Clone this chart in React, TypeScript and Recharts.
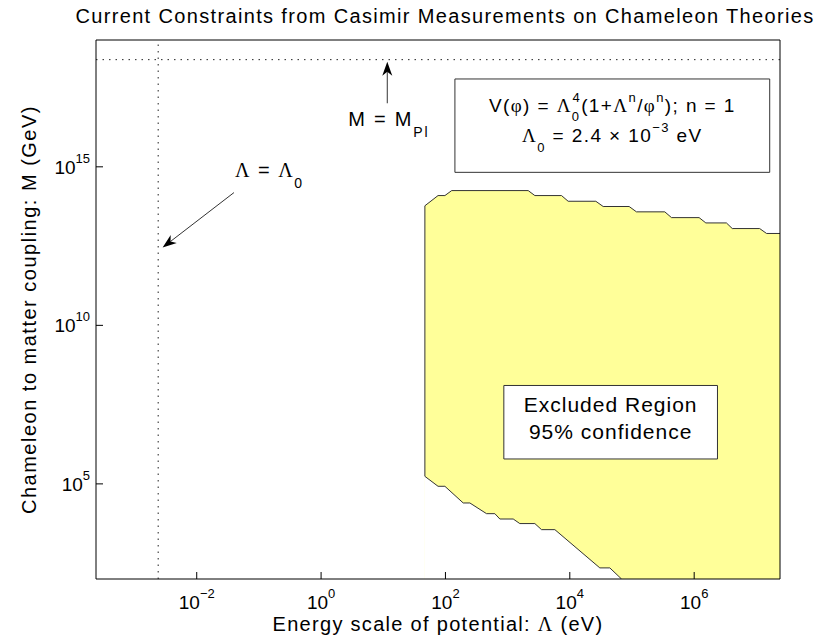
import { ComposedChart, Area, XAxis, YAxis, ReferenceLine, ReferenceArea, ReferenceDot, Label } from 'recharts';

// upper edge of the excluded region (Lambda in eV, M in GeV)
const upperEdge = [
    { lambda: 46.7, m: 1.73e5 },
    { lambda: 46.7, m: 5.9e13 },
    { lambda: 76, m: 1.24e14 },
    { lambda: 98, m: 1.24e14 },
    { lambda: 126, m: 1.78e14 },
    { lambda: 2140, m: 1.78e14 },
    { lambda: 2740, m: 1.24e14 },
    { lambda: 7360, m: 1.24e14 },
    { lambda: 9400, m: 8.2e13 },
    { lambda: 26200, m: 8.2e13 },
    { lambda: 34400, m: 5.6e13 },
    { lambda: 90000, m: 5.6e13 },
    { lambda: 118000, m: 3.8e13 },
    { lambda: 337000, m: 3.8e13 },
    { lambda: 432000, m: 2.5e13 },
    { lambda: 1.2e6, m: 2.5e13 },
    { lambda: 1.54e6, m: 1.7e13 },
    { lambda: 3.3e6, m: 1.7e13 },
    { lambda: 4.1e6, m: 1.13e13 },
    { lambda: 1.13e7, m: 1.13e13 },
    { lambda: 1.46e7, m: 7.9e12 },
    { lambda: 2.4e7, m: 7.9e12 },
];

// lower edge of the excluded region
const lowerEdge = [
    { lambda: 46.7, m: 1.73e5 },
    { lambda: 76, m: 8.4e4 },
    { lambda: 98, m: 8.4e4 },
    { lambda: 193, m: 2.5e4 },
    { lambda: 247, m: 2.5e4 },
    { lambda: 458, m: 1.15e4 },
    { lambda: 623, m: 1.15e4 },
    { lambda: 750, m: 7.8e3 },
    { lambda: 1230, m: 7.8e3 },
    { lambda: 1570, m: 5.6e3 },
    { lambda: 2740, m: 5.6e3 },
    { lambda: 3510, m: 3.6e3 },
    { lambda: 5750, m: 3.6e3 },
    { lambda: 30400, m: 224 },
    { lambda: 44000, m: 224 },
    { lambda: 67900, m: 100 },
];

const xTicks = [1e-2, 1, 1e2, 1e4, 1e6];
const yTicks = [1e5, 1e10, 1e15];
const xDomain = [2.4e-4, 2.4e7];
const yDomain = [1e2, 1e19];

const lambda0 = 2.4e-3;
const planckMass = 2.4e18;

// annotation anchors (data units)
const lambdaArrow = [{ x: 0.0397, y: 1.54e14 }, { x: 2.83e-3, y: 2.85e12 }];
const planckArrow = [{ x: 11.6, y: 1.01e17 }, { x: 11.6, y: 2.07e18 }];
const lambdaText = { x: 0.0412, y: 4.9e14 };
const planckText = { x: 2.73, y: 1.99e16 };
const formulaBox = { x1: 142, x2: 1.64e7, y1: 6.7e14, y2: 5.9e17 };
const excludedBox = { x1: 869, x2: 2.37e6, y1: 6.1e5, y2: 1.27e8 };

const SANS = '"Liberation Sans", Arial, sans-serif';
const SERIF = '"Liberation Serif", "Times New Roman", serif';

function expLabel(v: number) {
    const e = Math.round(Math.log10(v));
    return e < 0 ? '\u2212' + -e : String(e);
}

function XTick({ x, payload }: any) {
    return (
        <text x={x} y={609} textAnchor="middle" fontFamily={SANS} fontSize={19} fill="#000">
            10<tspan dy={-11} fontSize={13}>{expLabel(payload.value)}</tspan>
        </text>
    );
}

function YTick({ y, payload }: any) {
    return (
        <text x={90} y={y + 7} textAnchor="end" fontFamily={SANS} fontSize={19} fill="#000">
            10<tspan dy={-11} fontSize={13}>{expLabel(payload.value)}</tspan>
        </text>
    );
}

function Arrow({ x1, y1, x2, y2 }: any) {
    const len = Math.hypot(x2 - x1, y2 - y1);
    const ux = (x2 - x1) / len, uy = (y2 - y1) / len;
    const px = -uy, py = ux;
    const bx = x2 - ux * 14, by = y2 - uy * 14;
    const nx = x2 - ux * 10, ny = y2 - uy * 10;
    const pts = `${x2},${y2} ${bx + px * 5},${by + py * 5} ${nx},${ny} ${bx - px * 5},${by - py * 5}`;
    return (
        <g>
            <line x1={x1} y1={y1} x2={nx} y2={ny} stroke="#333" strokeWidth={1} />
            <polygon points={pts} fill="#000" />
        </g>
    );
}

function LambdaNote({ cx, cy }: any) {
    return (
        <text x={cx} y={cy} fontFamily={SANS} fontSize={20} letterSpacing={1.5} fill="#000">
            <tspan fontFamily={SERIF}>Λ</tspan> = <tspan fontFamily={SERIF}>Λ</tspan>
            <tspan dy={11} fontSize={14}>0</tspan>
        </text>
    );
}

function PlanckNote({ cx, cy }: any) {
    return (
        <text x={cx} y={cy} fontFamily={SANS} fontSize={20} letterSpacing={1.8} fill="#000">
            M = M<tspan dy={11} fontSize={14}>Pl</tspan>
        </text>
    );
}

function FormulaText({ viewBox }: any) {
    const cx = viewBox.x + viewBox.width / 2;
    return (
        <g fontFamily={SANS} fontSize={19} letterSpacing={1.4} fill="#000">
            <text x={cx} y={viewBox.y + 33} textAnchor="middle">
                V(<tspan fontFamily={SERIF}>φ</tspan>) = <tspan fontFamily={SERIF}>Λ</tspan>
                <tspan dy={9} fontSize={13}>0</tspan>
                <tspan dx={-8} dy={-19} fontSize={13}>4</tspan>
                <tspan dy={10}>(1+</tspan><tspan fontFamily={SERIF}>Λ</tspan>
                <tspan dy={-10} fontSize={13}>n</tspan>
                <tspan dy={10}>/</tspan><tspan fontFamily={SERIF}>φ</tspan>
                <tspan dy={-10} fontSize={13}>n</tspan>
                <tspan dy={10}>); n = 1</tspan>
            </text>
            <text x={cx} y={viewBox.y + 63} textAnchor="middle">
                <tspan fontFamily={SERIF}>Λ</tspan>
                <tspan dy={10} fontSize={13}>0</tspan>
                <tspan dy={-10}> = 2.4 × 10</tspan>
                <tspan dy={-10} fontSize={13}>−3</tspan>
                <tspan dy={10}> eV</tspan>
            </text>
        </g>
    );
}

function ExcludedText({ viewBox }: any) {
    const cx = viewBox.x + viewBox.width / 2;
    return (
        <g fontFamily={SANS} fontSize={21} letterSpacing={1} fill="#000">
            <text x={cx} y={viewBox.y + 27} textAnchor="middle">Excluded Region</text>
            <text x={cx} y={viewBox.y + 54} textAnchor="middle">95% confidence</text>
        </g>
    );
}

export default function App() {
    return (
        <div style={{ width: 833, height: 644, background: '#fff' }}>
            <style>{'body{margin:0}'}</style>
            <ComposedChart width={833} height={644} margin={{ top: 30, right: 43, bottom: 25, left: 36 }}>
                <Area
                    data={upperEdge}
                    dataKey="m"
                    type="linear"
                    baseValue="dataMin"
                    fill="#ffff99"
                    fillOpacity={1}
                    stroke="#333"
                    strokeWidth={1}
                    dot={false}
                    activeDot={false}
                    isAnimationActive={false}
                />
                <Area
                    data={lowerEdge}
                    dataKey="m"
                    type="linear"
                    baseValue="dataMin"
                    fill="#ffffff"
                    fillOpacity={1}
                    stroke="#333"
                    strokeWidth={1}
                    dot={false}
                    activeDot={false}
                    isAnimationActive={false}
                />
                <ReferenceLine x={lambda0} stroke="#222" strokeDasharray="1.5 5" />
                <ReferenceLine y={planckMass} stroke="#222" strokeDasharray="1.5 5" />
                <ReferenceLine segment={lambdaArrow} shape={Arrow} />
                <ReferenceLine segment={planckArrow} shape={Arrow} />
                <ReferenceDot x={lambdaText.x} y={lambdaText.y} r={0} shape={LambdaNote} />
                <ReferenceDot x={planckText.x} y={planckText.y} r={0} shape={PlanckNote} />
                <ReferenceArea {...formulaBox} fill="#fff" fillOpacity={1} stroke="#333" strokeWidth={1}
                    label={(p: any) => <FormulaText {...p} />} />
                <ReferenceArea {...excludedBox} fill="#fff" fillOpacity={1} stroke="#333" strokeWidth={1}
                    label={(p: any) => <ExcludedText {...p} />} />
                <XAxis
                    dataKey="lambda"
                    type="number"
                    scale="log"
                    domain={xDomain}
                    allowDataOverflow
                    ticks={xTicks}
                    height={40}
                    tickSize={-7}
                    tickMargin={0}
                    stroke="#000"
                    tick={<XTick />}
                >
                    <Label content={({ viewBox }: any) => (
                        <text x={viewBox.x + viewBox.width / 2} y={631} textAnchor="middle" fontFamily={SANS} fontSize={20} letterSpacing={1.3} fill="#000">
                            Energy scale of potential: <tspan fontFamily={SERIF}>Λ</tspan> (eV)
                        </text>
                    )} />
                </XAxis>
                <XAxis
                    xAxisId="top"
                    orientation="top"
                    dataKey="lambda"
                    type="number"
                    scale="log"
                    domain={xDomain}
                    allowDataOverflow
                    ticks={xTicks}
                    height={10}
                    tickSize={-7}
                    stroke="#000"
                    tick={false}
                >
                    <Label content={() => (
                        <text x={445} y={23} textAnchor="middle" fontFamily={SANS} fontSize={20} letterSpacing={1.35} fill="#000">
                            Current Constraints from Casimir Measurements on Chameleon Theories
                        </text>
                    )} />
                </XAxis>
                <YAxis
                    type="number"
                    scale="log"
                    domain={yDomain}
                    allowDataOverflow
                    ticks={yTicks}
                    width={60}
                    tickSize={-7}
                    stroke="#000"
                    tick={<YTick />}
                >
                    <Label content={({ viewBox }: any) => (
                        <text x={36} y={viewBox.y + viewBox.height / 2} transform={`rotate(-90, 36, ${viewBox.y + viewBox.height / 2})`}
                            textAnchor="middle" fontFamily={SANS} fontSize={20} letterSpacing={1.5} fill="#000">
                            Chameleon to matter coupling: M (GeV)
                        </text>
                    )} />
                </YAxis>
                <YAxis
                    yAxisId="right"
                    orientation="right"
                    type="number"
                    scale="log"
                    domain={yDomain}
                    allowDataOverflow
                    ticks={yTicks}
                    width={10}
                    tickSize={-7}
                    stroke="#000"
                    tick={false}
                />
            </ComposedChart>
        </div>
    );
}
